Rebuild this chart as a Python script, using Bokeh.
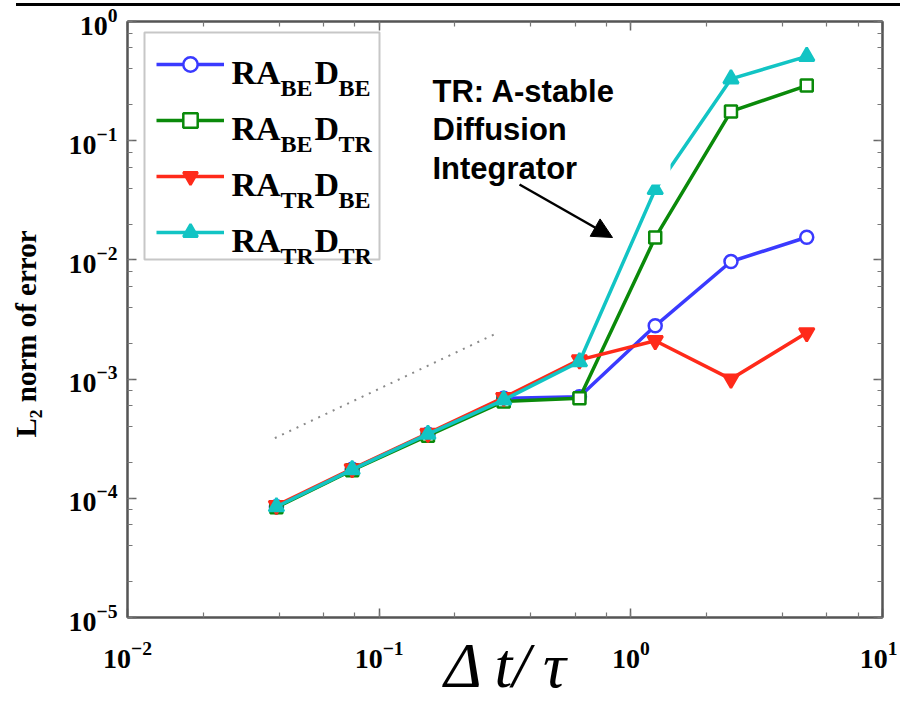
from bokeh.plotting import figure
from bokeh.layouts import column
from bokeh.models import (LogAxis, LogTicker, Legend, LegendItem, Label, Arrow, Div,
                          NormalHead, BoxAnnotation, Range1d, CustomJSTickFormatter)
from bokeh.embed import file_html
from bokeh.resources import INLINE

# ---------------- data ----------------
dt = [0.0390625, 0.078125, 0.15625, 0.3125, 0.625, 1.25, 2.5, 5.0]
err_be_be = [8.5e-5, 1.75e-4, 3.45e-4, 6.9e-4, 7.1e-4, 2.8e-3, 9.7e-3, 1.55e-2]
err_be_tr = [8.4e-5, 1.72e-4, 3.35e-4, 6.5e-4, 6.9e-4, 1.54e-2, 0.176, 0.29]
err_tr_be = [8.7e-5, 1.77e-4, 3.5e-4, 7.0e-4, 1.45e-3, 2.1e-3, 1.0e-3, 2.45e-3]
err_tr_tr = [8.5e-5, 1.74e-4, 3.45e-4, 6.7e-4, 1.4e-3, 3.9e-2, 0.33, 0.51]
slope_x = [0.0385, 0.29]
slope_y = [3.2e-4, 2.4e-3]

series = [
    (err_be_be, "#3a3aff", "circle", ("BE", "BE")),
    (err_be_tr, "#0a8a0a", "square", ("BE", "TR")),
    (err_tr_be, "#ff2a1a", "inverted_triangle", ("TR", "BE")),
    (err_tr_tr, "#12c4c4", "triangle", ("TR", "TR")),
]
annot_lines = ["TR: A-stable", "Diffusion", "Integrator"]

# ---------------- layout helpers (page px -> frame screen units) ----------------
FL, FB = 128, 618
def fx(px):
    return px - FL
def fy(py):
    return FB - py

p = figure(width=897, height=697, x_axis_type="log", y_axis_type="log",
           x_range=Range1d(1e-2, 10), y_range=Range1d(1e-5, 1),
           output_backend="svg", toolbar_location=None,
           min_border_left=127, min_border_right=15, min_border_top=15,
           min_border_bottom=86)
p.background_fill_color = "white"
p.border_fill_color = "white"
p.xgrid.visible = False
p.ygrid.visible = False
p.outline_line_color = "#555555"
p.outline_line_width = 2

def style_axis(ax, labels=True):
    ax.ticker = LogTicker(desired_num_ticks=6, mantissas=[1])
    ax.axis_line_color = "#555555"
    ax.axis_line_width = 2
    ax.major_tick_in = 9
    ax.major_tick_out = 0
    ax.minor_tick_in = 5
    ax.minor_tick_out = 0
    ax.major_tick_line_color = "#666666"
    ax.minor_tick_line_color = "#777777"
    ax.major_tick_line_width = 1.5
    ax.minor_tick_line_width = 1.2
    if labels:
        ax.major_label_text_font = "Liberation Serif"
        ax.major_label_text_font_style = "bold"
        ax.major_label_text_font_size = "28px"
        ax.major_label_text_color = "black"
    else:
        ax.formatter = CustomJSTickFormatter(code="return ''")
        ax.major_label_standoff = 0

style_axis(p.xaxis[0])
style_axis(p.yaxis[0])
p.xaxis[0].major_label_standoff = 24
p.yaxis[0].major_label_standoff = 10
p.yaxis[0].axis_label = "L\u2082 norm of error" + "\u00a0" * 4
p.yaxis[0].axis_label_text_font = "Liberation Serif"
p.yaxis[0].axis_label_text_font_style = "bold"
p.yaxis[0].axis_label_text_font_size = "29px"
p.yaxis[0].axis_label_text_color = "black"
p.yaxis[0].axis_label_standoff = 24

p.xaxis[0].axis_label = "\u0394\u2009t/\u2009\u03c4"
p.xaxis[0].axis_label_text_font = "Liberation Serif"
p.xaxis[0].axis_label_text_font_style = "italic"
p.xaxis[0].axis_label_text_font_size = "64px"
p.xaxis[0].axis_label_text_color = "black"
p.xaxis[0].axis_label_standoff = -41

ax_r = LogAxis()
style_axis(ax_r, labels=False)
p.add_layout(ax_r, "right")
ax_t = LogAxis()
style_axis(ax_t, labels=False)
p.add_layout(ax_t, "above")

# slope reference line
p.line(slope_x, slope_y, line_color="#8a8a8a", line_width=2, line_dash="2 6")

items = []
for ys, col, mk, _ in series:
    r_l = p.line(dt, ys, line_color=col, line_width=3.5)
    fill = "white" if mk in ("circle", "square") else col
    size = 13 if mk == "circle" else (12 if mk == "square" else 15)
    r_m = p.scatter(dt, ys, marker=mk, size=size, line_color=col, fill_color=fill,
                    line_width=2.5)
    items.append(LegendItem(label=" ", renderers=[r_l, r_m]))

# legend frame drawn as a box (legend itself transparent so texts stay visible)
p.add_layout(BoxAnnotation(left=fx(145), right=fx(380), top=fy(33), bottom=fy(260),
                           left_units="screen", right_units="screen",
                           top_units="screen", bottom_units="screen",
                           fill_color="white", fill_alpha=1,
                           line_color="#444444", line_width=2))

legend = Legend(items=items, location=(fx(157), fy(251)), margin=0, padding=12,
                glyph_width=68, glyph_height=36, spacing=20, label_standoff=5,
                label_width=120, label_text_font_size="10px",
                border_line_color=None, background_fill_alpha=0)
p.add_layout(legend, "center")

# legend text with subscripts
row_c = [63, 119, 175, 231]
for (ys, col, mk, (s1, s2)), c in zip(series, row_c):
    for txt, px, off, size in (("RA", 232, 10, "34px"), (s1, 281, 25, "24px"),
                               ("D", 315, 10, "34px"), (s2, 339, 25, "24px")):
        p.add_layout(Label(x=fx(px), y=fy(c + off), x_units="screen", y_units="screen",
                           text=txt, text_font="Liberation Serif", text_font_style="bold",
                           text_font_size=size, text_color="black", level="overlay",
                           text_baseline="alphabetic", text_align="left"))

# white box behind annotation text (covers part of cyan line as in original)
p.add_layout(BoxAnnotation(left=fx(425), right=fx(671), top=fy(55), bottom=fy(185),
                           left_units="screen", right_units="screen",
                           top_units="screen", bottom_units="screen",
                           fill_color="white", fill_alpha=1, line_color=None))

for txt, base in zip(annot_lines, [92, 130, 169]):
    p.add_layout(Label(x=fx(433), y=fy(base), x_units="screen", y_units="screen",
                       text=txt, text_font="Liberation Sans", text_font_style="bold",
                       text_font_size="31px", text_color="black", level="overlay",
                       text_baseline="alphabetic"))

p.add_layout(Arrow(x_start=fx(520), y_start=fy(185), x_end=fx(613), y_end=fy(238),
                   start_units="screen", end_units="screen",
                   line_color="black", line_width=2.5, level="overlay",
                   end=NormalHead(size=20, fill_color="black", line_color="black")))

# top border line of the original screenshot
top_line = Div(text="", width=884, height=3, margin=(3, 0, 0, 16),
               styles={"background-color": "black"})

layout = column(top_line, p, spacing=0)
open("out.html", "w").write(file_html(layout, INLINE))
